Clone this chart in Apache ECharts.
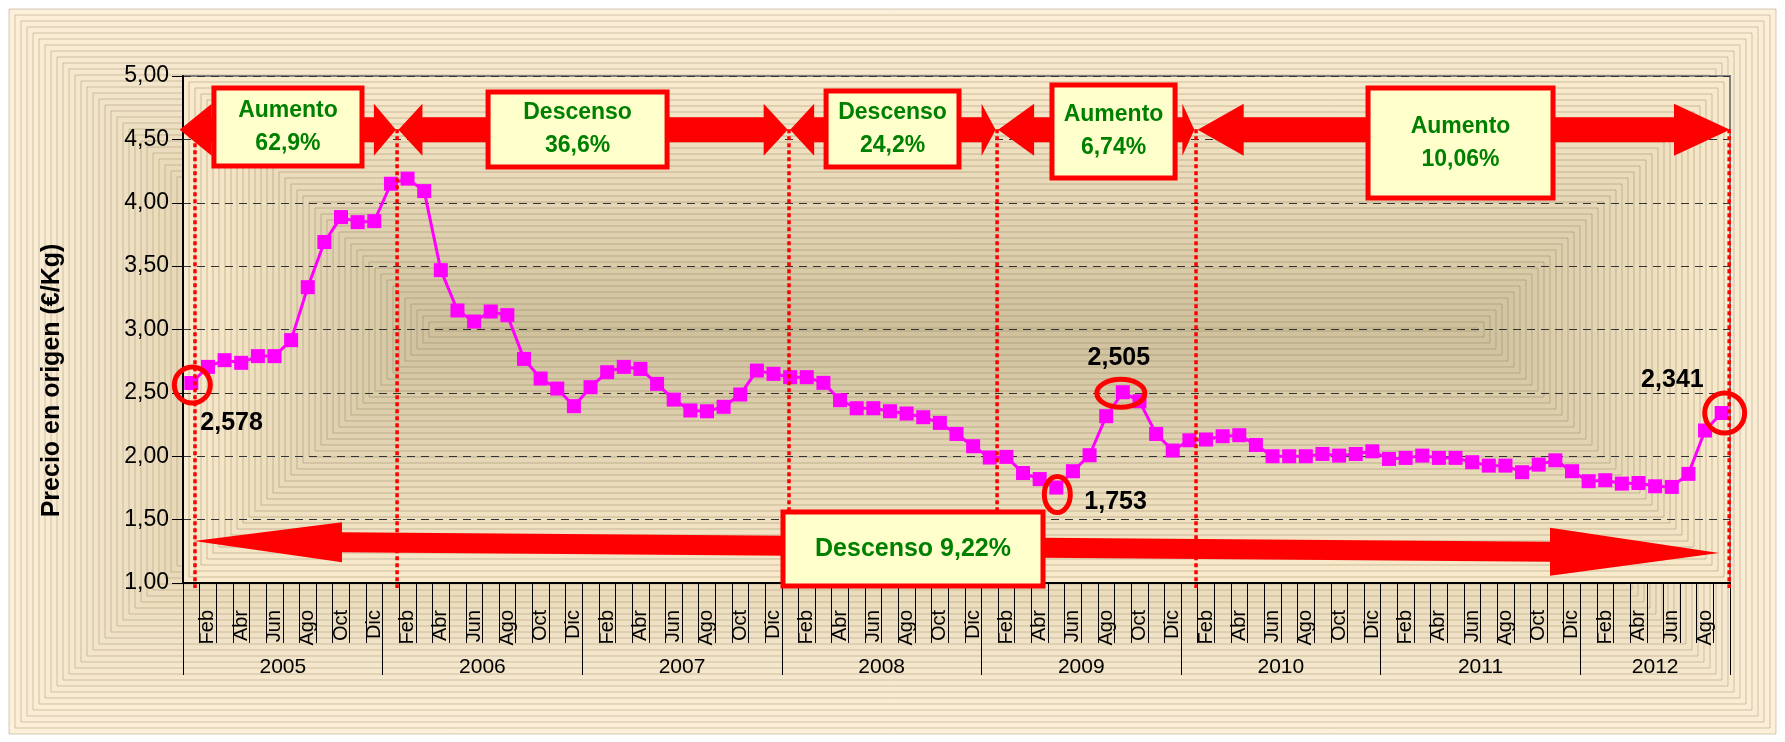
<!DOCTYPE html>
<html>
<head>
<meta charset="utf-8">
<title>Precio en origen</title>
<script src="https://cdn.jsdelivr.net/npm/echarts@6/dist/echarts.min.js"></script>
<style>
  html, body { margin: 0; padding: 0; background: #fff; }
  #chart { width: 1785px; height: 742px; }
</style>
</head>
<body>
<div id="chart"></div>
<script>
const FONT = '"Liberation Sans", Arial, sans-serif'

// ---- data ----
const monthNames = ['Ene', 'Feb', 'Mar', 'Abr', 'May', 'Jun', 'Jul', 'Ago', 'Sep', 'Oct', 'Nov', 'Dic']
const years = ['2005', '2006', '2007', '2008', '2009', '2010', '2011', '2012']
const monthsPerYear = [12, 12, 12, 12, 12, 12, 12, 9]

// precio en origen (€/Kg), ene 2005 - sep 2012
const prices = [
  2.578, 2.705, 2.758, 2.737, 2.79, 2.79, 2.916, 3.334, 3.69, 3.887, 3.847, 3.855,
  4.15, 4.19, 4.092, 3.468, 3.15, 3.063, 3.142, 3.113, 2.768, 2.613, 2.534, 2.395,
  2.545, 2.663, 2.705, 2.689, 2.571, 2.447, 2.361, 2.355, 2.39, 2.487, 2.676, 2.65,
  2.624, 2.624, 2.579, 2.442, 2.379, 2.379, 2.355, 2.337, 2.308, 2.263, 2.176, 2.079,
  1.99, 1.995, 1.868, 1.82, 1.753, 1.882, 2.008, 2.316, 2.505, 2.434, 2.176, 2.045,
  2.126, 2.132, 2.158, 2.166, 2.089, 2.0, 2.0, 2.0, 2.018, 2.005, 2.018, 2.039,
  1.979, 1.987, 2.005, 1.987, 1.987, 1.953, 1.926, 1.926, 1.874, 1.934, 1.968, 1.882,
  1.803, 1.811, 1.784, 1.789, 1.763, 1.758, 1.861, 2.203, 2.341
]

const yMin = 1
const yMax = 5
const yStep = 0.5

// tramos (en meses desde ene 2005) y su variación
const cuts = [0.72, 12.87, 36.43, 48.94, 60.9, 92.95]
const changeTexts = ['Aumento\n62,9%', 'Descenso\n36,6%', 'Descenso\n24,2%', 'Aumento\n6,74%', 'Aumento\n10,06%']
const totalText = 'Descenso 9,22%'

// puntos destacados
const highlightIdx = [0, 52, 56, 92]
const highlightText = ['2,578', '1,753', '2,505', '2,341']

// ---- derived ----
const categories = []
const yearStarts = []
const yearCenters = {}
let pos = 0
years.forEach((y, k) => {
  yearStarts.push(pos)
  yearCenters[pos + monthsPerYear[k] / 2] = y
  for (let m = 0; m < monthsPerYear[k]; m++) categories.push(monthNames[m] + ' ' + y)
  pos += monthsPerYear[k]
})
const nMonths = categories.length

const chart = echarts.init(document.getElementById('chart'), null, { renderer: 'canvas' })

chart.setOption({
  animation: false,
  backgroundColor: '#ffffff',
  grid: {
    left: 183, top: 76, width: 1547, height: 507,
    show: true, borderColor: '#808080', borderWidth: 2,
    backgroundColor: 'transparent', containLabel: false, outerBoundsMode: 'none'
  },
  xAxis: [
    {
      type: 'category', data: categories, position: 'bottom', boundaryGap: true,
      axisLine: { show: true, lineStyle: { color: '#000', width: 2 } },
      axisTick: { show: true, interval: 0, alignWithLabel: false, length: 60, lineStyle: { color: '#000', width: 1 } },
      axisLabel: {
        interval: (i) => i % 2 === 1,
        formatter: (v) => v.split(' ')[0],
        rotate: 90, margin: 27, fontSize: 20, color: '#000', fontFamily: FONT
      },
      splitLine: { show: false }
    },
    {
      type: 'category', data: categories, position: 'bottom', boundaryGap: true,
      axisLine: { show: false },
      axisTick: { show: true, interval: (i) => yearStarts.includes(i), alignWithLabel: false, length: 92, lineStyle: { color: '#000', width: 1 } },
      axisLabel: { show: false },
      splitLine: { show: false }
    },
    {
      type: 'value', min: 0, max: nMonths, interval: 0.5, position: 'bottom',
      axisLine: { show: false }, axisTick: { show: false }, splitLine: { show: false },
      axisLabel: {
        margin: 74, fontSize: 21, color: '#000', fontFamily: FONT,
        showMinLabel: true, showMaxLabel: true,
        formatter: (v) => yearCenters[v] || ''
      }
    }
  ],
  yAxis: {
    type: 'value', min: yMin, max: yMax, interval: yStep,
    name: 'Precio en origen (€/Kg)', nameLocation: 'middle', nameRotate: 90, nameGap: 118,
    nameTextStyle: { fontSize: 25, fontWeight: 'bold', color: '#000', fontFamily: FONT, padding: [0, 102, 0, 0] },
    axisLine: { show: true, lineStyle: { color: '#000', width: 2 } },
    axisTick: { show: true, length: 11, lineStyle: { color: '#000', width: 1 } },
    axisLabel: {
      margin: 14, fontSize: 23, color: '#000', fontFamily: FONT,
      formatter: (v) => v.toFixed(2).replace('.', ',')
    },
    splitLine: { show: true, lineStyle: { color: '#333', width: 1, type: [8, 6] } }
  },
  series: [{
    type: 'line', xAxisIndex: 0, data: prices, z: 3,
    symbol: 'rect', symbolSize: 14, showSymbol: true, showAllSymbol: true,
    lineStyle: { color: '#FF00FF', width: 3 },
    itemStyle: { color: '#FF00FF' }
  }]
})

// ---- annotations, placed through the axes ----
const X = (u) => chart.convertToPixel({ xAxisIndex: 2 }, u)
const Y = (v) => chart.convertToPixel({ yAxisIndex: 0 }, v)
const ptX = (i) => X(i + 0.5)

const hex = (c) => [1, 3, 5].map((k) => parseInt(c.slice(k, k + 2), 16))
const mix = (a, b, t) => {
  const p = hex(a), q = hex(b)
  return 'rgb(' + p.map((v, k) => Math.round(v + (q[k] - v) * t)).join(',') + ')'
}

function nestedRects(x, y, w, h, step, maxInset, c0, c1, stroke, z) {
  const out = []
  const n = Math.floor(Math.min(maxInset, h / 2 - 1) / step)
  for (let k = 0; k <= n; k++) {
    const d = k * step
    out.push({
      type: 'rect', silent: true, z,
      shape: { x: x + d, y: y + d, width: w - 2 * d, height: h - 2 * d },
      style: { fill: mix(c0, c1, k / n), stroke, lineWidth: 1 }
    })
  }
  return out
}

const els = []
const gl = X(0), gr = X(nMonths), gt = Y(yMax), gb = Y(yMin)

// chart area and plot area fills
els.push(...nestedRects(9, 9, 1767, 725, 6, 200, '#FCF0DA', '#E4D4B0', 'rgba(150,130,95,0.40)', -20))
els.push(...nestedRects(gl, gt, gr - gl, gb - gt, 6, 400, '#FAEBCD', '#CFC09C', 'rgba(130,112,78,0.38)', -10))

// dotted separators
cuts.forEach((u) => {
  els.push({
    type: 'line', silent: true, z: 20,
    shape: { x1: X(u), y1: Y(4.58), x2: X(u), y2: Y(0.96) },
    style: { stroke: '#FF0000', lineWidth: 3.5, lineDash: [4, 3] }
  })
})

// top double arrows
const tips = [[-0.2, 12.8], [12.95, 36.35], [36.5, 48.85], [49.0, 60.8], [61.0, 93.0]]
const heads = [[32, 22], [24, 24], [24, 14], [36, 12], [46, 56]]
const arrowV = 4.575
tips.forEach(([u1, u2], k) => {
  const xa = X(u1), xb = X(u2), yc = Y(arrowV)
  const [h1, h2] = heads[k]
  const s = 12.5, hh = 26
  els.push({
    type: 'polygon', silent: true, z: 21,
    shape: { points: [
      [xa, yc], [xa + h1, yc - hh], [xa + h1, yc - s], [xb - h2, yc - s], [xb - h2, yc - hh],
      [xb, yc], [xb - h2, yc + hh], [xb - h2, yc + s], [xa + h1, yc + s], [xa + h1, yc + hh]
    ] },
    style: { fill: '#FF0000' }
  })
})

// bottom long arrow (slightly sloped)
{
  const xL = X(0.66), yL = Y(1.331), xR = X(92.34), yR = Y(1.237)
  const yAt = (x) => yL + (yR - yL) * (x - xL) / (xR - xL)
  const hl1 = 148, hh1 = 20, hl2 = 169, hh2 = 24, s = 10
  const a = xL + hl1, b = xR - hl2
  els.push({
    type: 'polygon', silent: true, z: 21,
    shape: { points: [
      [xL, yL], [a, yAt(a) - hh1], [a, yAt(a) - s], [b, yAt(b) - s], [b, yAt(b) - hh2],
      [xR, yR], [b, yAt(b) + hh2], [b, yAt(b) + s], [a, yAt(a) + s], [a, yAt(a) + hh1]
    ] },
    style: { fill: '#FF0000' }
  })
}

// text boxes [u1, u2, vTop, vBottom]
const boxes = [
  [1.86, 10.76, 4.905, 4.29],
  [18.34, 29.1, 4.874, 4.282],
  [38.66, 46.65, 4.882, 4.282],
  [52.24, 59.64, 4.929, 4.195],
  [71.24, 82.36, 4.905, 4.037],
  [36.07, 51.7, 1.56, 0.976]
]
const boxTexts = changeTexts.concat([totalText])
boxes.forEach(([u1, u2, v1, v2], k) => {
  const x1 = X(u1), x2 = X(u2), y1 = Y(v1), y2 = Y(v2)
  els.push({
    type: 'rect', silent: true, z: 22,
    shape: { x: x1, y: y1, width: x2 - x1, height: y2 - y1 },
    style: { fill: '#FFFFCC', stroke: '#FF0000', lineWidth: 5 }
  })
  els.push({
    type: 'text', silent: true, z: 23,
    style: {
      text: boxTexts[k], x: (x1 + x2) / 2, y: (y1 + y2) / 2,
      align: 'center', verticalAlign: 'middle', lineHeight: 33,
      fill: '#008000', fontSize: k === 5 ? 25 : 23, fontWeight: 'bold', fontFamily: FONT
    }
  })
})

// circles and value labels around highlighted points
const rings = [[1, 2, 18, 18], [1, 7, 13, 18], [-2, 1, 24, 14], [3, 0, 20, 20]]
const labelPos = [[9, 40, 'left'], [28, 15, 'left'], [-4, -34, 'center'], [-18, -33, 'right']]
highlightIdx.forEach((i, k) => {
  const px = ptX(i), py = Y(prices[i])
  const [dx, dy, rx, ry] = rings[k]
  els.push({
    type: 'ellipse', silent: true, z: 24,
    shape: { cx: px + dx, cy: py + dy, rx, ry },
    style: { fill: null, stroke: '#FF0000', lineWidth: 5 }
  })
  const [lx, ly, al] = labelPos[k]
  els.push({
    type: 'text', silent: true, z: 24,
    style: {
      text: highlightText[k], x: px + lx, y: py + ly, align: al, verticalAlign: 'middle',
      fill: '#000', fontSize: 25, fontWeight: 'bold', fontFamily: FONT
    }
  })
})

chart.setOption({ graphic: els })
</script>
</body>
</html>
